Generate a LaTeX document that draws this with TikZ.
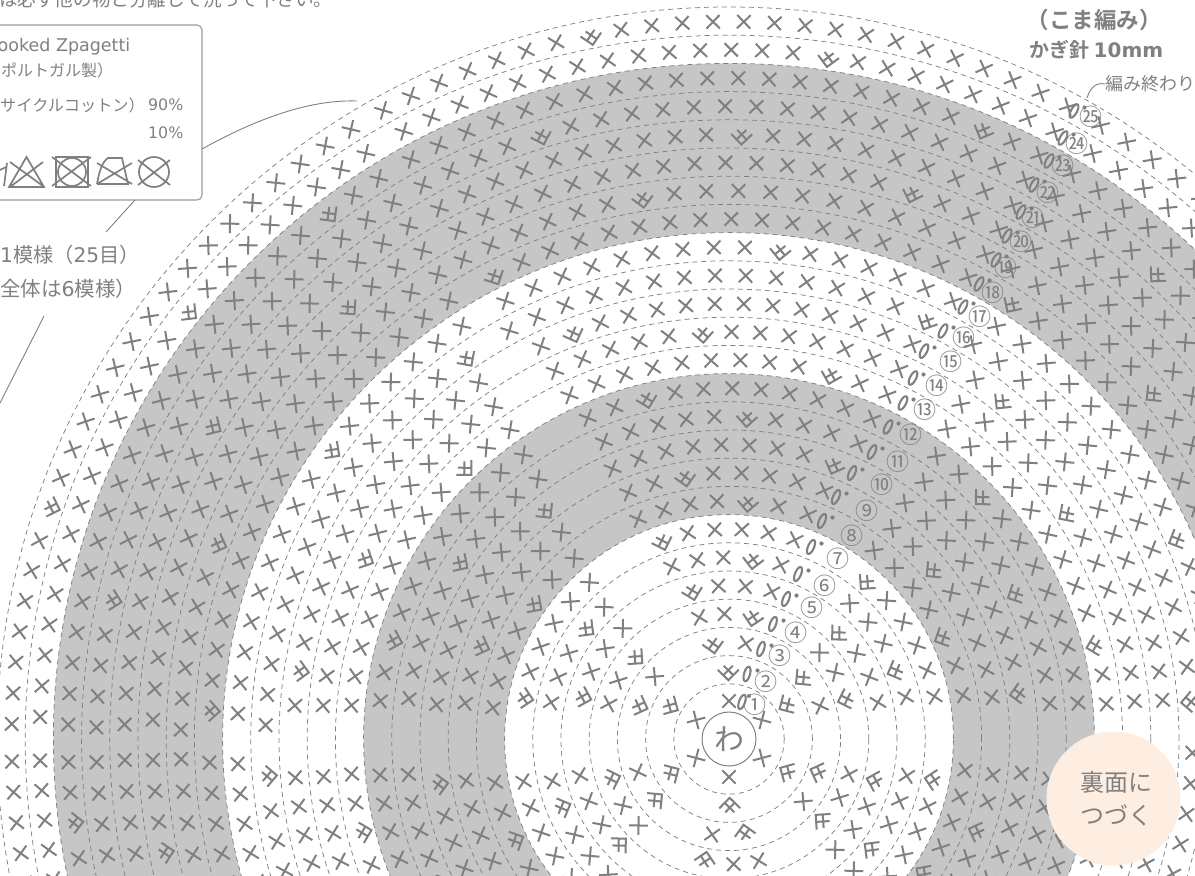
\documentclass[tikz,border=0pt]{standalone}
\usepackage{fontspec}
\setmainfont{Noto Sans CJK JP}[BoldFont=* Bold]
\newfontfamily\lat{DejaVu Sans}
\definecolor{ink}{HTML}{808080}
\definecolor{bandgrey}{HTML}{C6C6C6}
\definecolor{peach}{HTML}{FEEEE2}
\tikzset{
  stitch/.style={draw=ink,line width=2pt},
  ring/.style={draw=ink,line width=0.75pt,dash pattern=on 5pt off 4pt},
  zerost/.style={draw=ink,line width=2.1pt},
  leader/.style={draw=ink,line width=0.9pt},
  tagbox/.style={draw=ink!80,line width=1.1pt,rounded corners=5pt,minimum width=262pt,minimum height=175pt,inner sep=0pt},
  label/.style={text=ink,inner sep=0pt,font=\fontsize{16}{16}\selectfont},
  wash/.style={draw=ink,line width=1.7pt},
}
\newcommand{\fs}[1]{\fontsize{#1}{#1}\selectfont}
\newcommand{\xst}[2]{\draw[stitch,shift={(#1:#2)},rotate=#1] (-6.7,-6.7)--(6.7,6.7) (-6.7,6.7)--(6.7,-6.7);}
\newcommand{\vst}[2]{\draw[stitch,shift={(#1:#2)},rotate=#1] (0.5,10.5)--(-10,0)--(0.5,-10.5) (-4.5,-4.5)--(4.5,4.5) (-4.5,4.5)--(4.5,-4.5);}
\begin{document}
\begin{tikzpicture}[x=1pt,y=-1pt]
\useasboundingbox (0,0) rectangle (1195,876);
\clip (0,0) rectangle (1195,876);
% bands
\begin{scope}[shift={(729,739)},y=1pt]
  \fill[bandgrey,even odd rule] (0,0) circle (224.4) (0,0) circle (365.4);
  \fill[bandgrey,even odd rule] (0,0) circle (506.4) (0,0) circle (675.6);
  \foreach \k in {1,...,25}{
    \pgfmathsetmacro\rr{27+\k*28.2}
    \draw[ring] (0,0) circle (\rr);
  }
  % row 1
  \foreach \j in {0,...,5}{
    \pgfmathsetmacro\aa{90-60*\j}
    \xst{\aa}{38}
  }
  % rows 2 to 25: row / first cross angle / crosses before V / V angle / crosses after V
  \foreach \k/\fa/\nb/\va/\na in {
    2/90/0/90.6/0, 3/80/1/99.6/0, 4/78/0/78.8/2, 5/73.8/3/104/0, 6/73.4/1/82.3/3,
    7/71.7/5/108.7/0, 8/70.6/2/85.4/4, 9/69/5/99.5/2, 10/68/0/68.9/8, 11/66.3/4/86.8/5,
    12/65.9/8/103.6/2, 13/65.3/2/74.3/9, 14/65.3/7/93.7/5, 15/65.1/12/111/1, 16/64/0/64.6/14,
    17/62.9/6/84/9, 18/62.6/16/116.9/0, 19/62.1/11/99.1/6, 20/62.1/3/71.4/15, 21/62/9/88.8/10,
    22/62.1/16/107.3/4, 23/62/2/67.3/19, 24/61.8/8/81.7/14, 25/61.8/16/101.1/7}{
    \pgfmathsetmacro\rr{27+(\k-0.5)*28.2-0.5}
    \pgfmathsetmacro\pxs{min(31,23.5+0.45*\k)}
    \pgfmathsetmacro\da{\pxs/(\rr*0.017453)}
    \foreach \j in {0,...,5}{
      \pgfmathsetmacro\ofs{-60*\j}
      \pgfmathsetmacro\aa{\va+\ofs}
      \vst{\aa}{\rr}
      \ifnum\nb>0
        \foreach \i in {1,...,\nb}{
          \pgfmathsetmacro\aa{\fa+(\i-1)*(\va-\fa)/\nb+\ofs}
          \xst{\aa}{\rr}
        }
      \fi
      \ifnum\na>0
        \foreach \i in {1,...,\na}{
          \pgfmathsetmacro\aa{\va+(\i+0.15)*\da+\ofs}
          \xst{\aa}{\rr}
        }
      \fi
    }
  }
\end{scope}
% chain marks, slip dots and row numbers
\foreach \k/\xz/\yz/\xn/\yn/\nn in {
  1/742/702/755/705/①, 2/747/674/766/682/②, 3/761/649/780/656/③, 4/773/624/796/633/④, 5/786/599/812/608/⑤,
  6/798/574/825/586/⑥, 7/811/547/838/559/⑦, 8/822/521/852/536/⑧, 9/836/497/867/511/⑨, 10/852/473/882/485/⑩,
  11/872/452/898/462/⑪, 12/888/427/911/435/⑫, 13/903/403/925/410/⑬, 14/913/378/937/386/⑭, 15/924/351/951/362/⑮,
  16/943/331/964/338/⑯, 17/963/307/980/317/⑰, 18/979/284/993/293/⑱, 19/996/260/1006/268/⑲, 20/1007/236/1021/242/⑳,
  21/1021/212/1033/218/㉑, 22/1034/185/1048/193/㉒, 23/1049/161/1063/166/㉓, 24/1063/138/1077/144/㉔, 25/1074/111/1091/117/㉕}{
  \pgfmathsetmacro\ang{atan2(739-\yz,\xz-729)}
  \draw[zerost,shift={(\xz,\yz)},rotate=\ang] (0,0) ellipse [x radius=7.5,y radius=3];
  \ifnum\k=1
    \fill[ink] (\xz+7,\yz-6) circle (2);
  \else
    \fill[ink] (\xz+10.5,\yz-3.5) circle (2.1);
  \fi
  \node[text=ink,inner sep=0pt,font=\fs{23}] (n\k) at (\xn,\yn) {\nn};
}
% centre
\node[circle,draw=ink,line width=1pt,fill=white,minimum size=54pt,inner sep=0pt,text=ink,font=\fs{30}] (centre) at (729,739) {わ};
% tag box
\node[tagbox] (tag) at (71,112.5) {};
\node[label,anchor=base west,font=\fs{18.6}] (topnote) at (-1,6) {は必ず他の物と分離して洗って下さい。};
\node[label,anchor=east,font=\lat\fs{17.5}] (brand) at (130.5,46.5) {ooked Zpagetti};
\node[label,anchor=west,font=\fs{16}] (origin) at (1,70) {ポルトガル製）};
\node[label,anchor=west,font=\fs{16.2}] (fib1) at (0,105) {サイクルコットン）};
\node[label,anchor=west,font=\lat\fs{15.8}] (pc1) at (148,105) {90\%};
\node[label,anchor=west,font=\lat\fs{15.8}] (pc2) at (148,133) {10\%};
% care symbols
\draw[wash] (7,163)--(4,186) (0,170)--(6,167);
\draw[wash] (26.5,157)--(9,187)--(44,187)--cycle (10,162)--(43,186) (43,162)--(10,187);
\draw[wash,line width=2.2pt] (56,157) rectangle (88,187);
\draw[wash] (72,172) circle (14) (52,157)--(91,186) (91,157)--(52,186);
\draw[wash] (97,184)--(128,184)--(122,158)--(108,158) .. controls (102,162) and (99,172) .. (97,184) (97,163)--(132,184) (132,163)--(97,184);
\draw[wash] (154,172) circle (15) (138,160)--(170,185) (170,160)--(138,185);
% pattern label
\node[label,anchor=west,font=\fs{20.2}] (rep1) at (0,255) {{\lat 1}模様（{\lat 25}目）};
\node[label,anchor=west,font=\fs{20.5}] (rep2) at (0,289) {全体は{\lat 6}模様）};
% leaders
\coordinate (ringpt) at (357,101);
\coordinate (tagA) at (202,149);
\coordinate (tagB) at (135,200);
\coordinate (repA) at (106,232);
\coordinate (repB) at (44,316);
\coordinate (repC) at (0,403);
\draw[leader] (tagA) .. controls (240,128) and (300,99) .. (ringpt);
\draw[leader] (tagB) -- (repA);
\draw[leader] (repB) -- (repC);
% top right
\node[label,font=\fs{22.5}\bfseries] (stitchname) at (1094,20) {（こま編み）};
\node[label,anchor=west,font=\fs{20}\bfseries] (hook) at (1029,50) {かぎ針 {\lat\bfseries 10mm}};
\node[label,anchor=west,font=\fs{18}] (endlabel) at (1105,84) {編み終わり};
\coordinate (endpt) at (1087,98);
\draw[leader] (endpt) .. controls (1090,88) and (1096,82) .. (endlabel.west);
% continue badge
\node[circle,fill=peach,minimum size=134pt,inner sep=0pt,text=ink,align=center,font=\fs{24}] (badge) at (1113.5,798.5) {\hspace*{5pt}裏面に\\[9pt]\hspace*{5pt}つづく};
\end{tikzpicture}
\end{document}
